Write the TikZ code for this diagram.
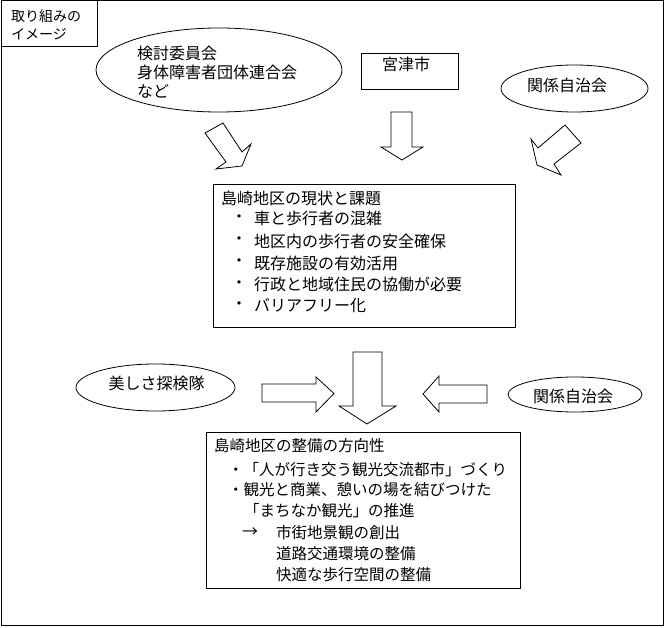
\documentclass[tikz,border=0pt]{standalone}
\usepackage{fontspec}
\setmainfont{Noto Sans CJK JP}
\usetikzlibrary{shapes.geometric}
\tikzset{
  ln/.style={draw=black, line width=0.8pt},
  boxnode/.style={ln, rectangle, inner sep=0pt},
  ellnode/.style={ln, ellipse, inner sep=0pt},
  txt/.style={anchor=west, inner sep=0pt, yshift=-1.5pt, font=\fontsize{16}{18}\selectfont},
  ctxt/.style={anchor=center, inner sep=0pt, yshift=-1.5pt, font=\fontsize{16}{18}\selectfont},
  btxt/.style={txt, font=\fontsize{15.5}{18}\selectfont},
  smalltxt/.style={anchor=west, inner sep=0pt, yshift=-1pt, font=\fontsize{14}{16}\selectfont},
  blockarrow/.style={ln, fill=white, line join=miter}
}
\begin{document}
\begin{tikzpicture}[x=1pt,y=-1pt]
\useasboundingbox (0,0) rectangle (666,628);
% outer frame and title box
\node[boxnode, minimum width=662pt, minimum height=624pt, line width=1pt] (frame) at (332,313) {};
\node[boxnode, minimum width=96pt, minimum height=46pt, line width=1pt] (titlebox) at (49,24) {};
\node[smalltxt] (t1) at (11,15) {取り組みの};
\node[smalltxt] (t2) at (11,33) {イメージ};

% top row
\node[ellnode, minimum width=246pt, minimum height=84pt] (iinkai) at (219,70) {};
\node[txt] (i1) at (137,52) {検討委員会};
\node[txt] (i2) at (137,71) {身体障害者団体連合会};
\node[txt] (i3) at (137,90) {など};

\node[boxnode, minimum width=97pt, minimum height=36pt] (miyazu) at (409.5,71) {};
\node[ctxt] (m1) at (406,63) {宮津市};

\node[ellnode, minimum width=147pt, minimum height=47pt] (jichi1) at (574.5,88.5) {};
\node[ctxt] (j1) at (567,84) {関係自治会};

% top arrows
\draw[blockarrow] (205,133) -- (223,123) -- (242,152) -- (251,144) -- (242,166) -- (216,169) -- (226,162) -- cycle;
\draw[blockarrow] (391,112) -- (412,112) -- (412,147) -- (423,147) -- (402,160) -- (381,147) -- (391,147) -- cycle;
\draw[blockarrow] (565,125) -- (581,143) -- (554,164) -- (561,175) -- (537,165) -- (531,139) -- (538,148) -- cycle;

% box 1
\node[boxnode, minimum width=302pt, minimum height=143pt] (genjo) at (364,255.5) {};
\node[txt] (g0) at (221,197) {島崎地区の現状と課題};
\foreach \yy/\tt [count=\k] in {217/車と歩行者の混雑, 239.5/地区内の歩行者の安全確保, 261.5/既存施設の有効活用, 283/行政と地域住民の協働が必要, 304.5/バリアフリー化}{
  \node[ctxt] (gb\k) at (239,\yy) {・};
  \node[txt] (g\k) at (254,\yy) {\tt};
}

% second row
\node[ellnode, minimum width=159pt, minimum height=47pt] (utsukushisa) at (155.5,387.5) {};
\node[ctxt] (u1) at (156.5,382) {美しさ探検隊};
\draw[blockarrow] (262,384) -- (316,384) -- (316,377) -- (334,393.5) -- (316,412) -- (316,402) -- (262,402) -- cycle;
\draw[blockarrow] (353,352) -- (382,352) -- (382,406) -- (396,406) -- (367,424) -- (339,406) -- (353,406) -- cycle;
\draw[blockarrow] (487,385) -- (439,385) -- (439,376) -- (423,394) -- (439,412) -- (439,403) -- (487,403) -- cycle;
\node[ellnode, minimum width=134pt, minimum height=35pt] (jichi2) at (575,394.5) {};
\node[ctxt] (j2) at (573,395) {関係自治会};

% box 2
\node[boxnode, minimum width=314pt, minimum height=156pt] (houkou) at (363,510) {};
\node[btxt] (h0) at (214,444) {島崎地区の整備の方向性};
\node[btxt] (h1) at (228,468) {・「人が行き交う観光交流都市」づくり};
\node[btxt] (h2) at (228,488.5) {・観光と商業、憩いの場を結びつけた};
\node[btxt] (h3) at (244,509.5) {「まちなか観光」の推進};
\node[ctxt] (h4a) at (250,531) {→};
\node[btxt] (h4) at (276,531) {市街地景観の創出};
\node[btxt] (h5) at (276,552.5) {道路交通環境の整備};
\node[btxt] (h6) at (276,573) {快適な歩行空間の整備};
\end{tikzpicture}
\end{document}
